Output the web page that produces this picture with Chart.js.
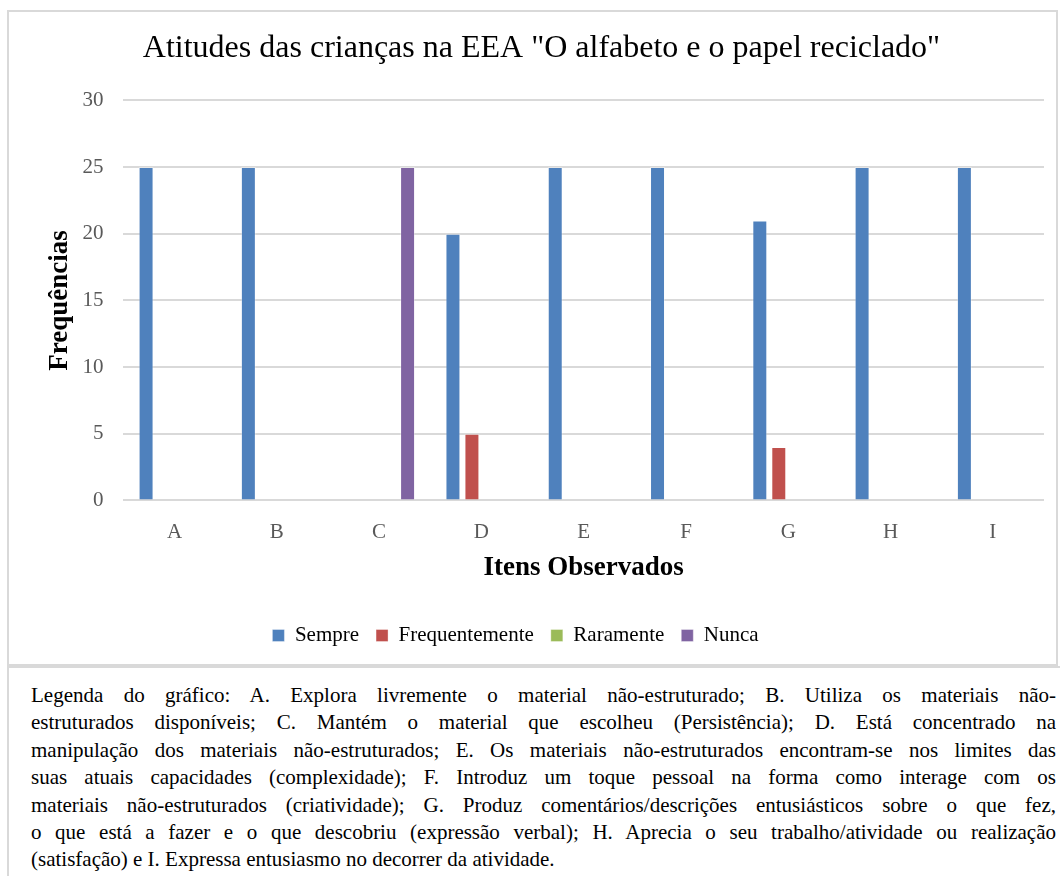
<!DOCTYPE html>
<html>
<head>
<meta charset="utf-8">
<script src="https://cdn.jsdelivr.net/npm/chart.js@4"></script>
<style>
  body { margin: 0; background: #fff; font-family: "Liberation Serif", "Tinos", "Times New Roman", "DejaVu Serif", serif; }
  #box { position: absolute; left: 7px; top: 10px; width: 1047px; height: 652px; border: 2px solid #d9d9d9; }
  #cap { position: absolute; left: 7px; top: 666px; width: 1025px; height: 220px; border-left: 2px solid #d9d9d9; border-top: 2px solid #d9d9d9; padding: 14px 4px 0 22px; font-size: 21px; line-height: 27.4px; color: #000; }
  #cap div { text-align: justify; text-align-last: justify; }
  #cap div.last { text-align-last: left; }
</style>
</head>
<body>
<div id="box"><canvas id="c"></canvas></div>
<div id="cap">
  <div>Legenda do gráfico: A. Explora livremente o material não-estruturado; B. Utiliza os materiais não-</div>
  <div>estruturados disponíveis; C. Mantém o material que escolheu (Persistência); D. Está concentrado na</div>
  <div>manipulação dos materiais não-estruturados; E. Os materiais não-estruturados encontram-se nos limites das</div>
  <div>suas atuais capacidades (complexidade); F. Introduz um toque pessoal na forma como interage com os</div>
  <div>materiais não-estruturados (criatividade); G. Produz comentários/descrições entusiásticos sobre o que fez,</div>
  <div>o que está a fazer e o que descobriu (expressão verbal); H. Aprecia o seu trabalho/atividade ou realização</div>
  <div class="last">(satisfação) e I. Expressa entusiasmo no decorrer da atividade.</div>
</div>
<script>
var categories = ["A", "B", "C", "D", "E", "F", "G", "H", "I"];
var sempre        = [25, 25, 0, 20, 25, 25, 21, 25, 25];
var frequentemente = [0, 0, 0, 5, 0, 0, 4, 0, 0];
var raramente     = [0, 0, 0, 0, 0, 0, 0, 0, 0];
var nunca         = [0, 0, 25, 0, 0, 0, 0, 0, 0];
var yTicks = [0, 5, 10, 15, 20, 25, 30];

var serif = "'Liberation Serif', Tinos, 'Times New Roman', 'DejaVu Serif', serif";

function ds(label, data, color){
    return {
        label: label,
        data: data,
        backgroundColor: color,
        borderColor: "rgba(255,255,255,0.35)",
        borderWidth: 1,
        categoryPercentage: 0.742,
        barPercentage: 0.79
    };
}

// legend in the original sits a bit left of the canvas centre
var legendShift = {
    id: "legendShift",
    afterLayout: function(chart){
        chart.legend.left -= 26;
        chart.legend.right -= 26;
    }
};

var myChart = new Chart(document.getElementById("c"), {
    type: "bar",
    data: {
        labels: categories,
        datasets: [
            ds("Sempre", sempre, "#4F81BD"),
            ds("Frequentemente", frequentemente, "#C0504D"),
            ds("Raramente", raramente, "#9BBB59"),
            ds("Nunca", nunca, "#8064A2")
        ]
    },
    plugins: [legendShift],
    options: {
        responsive: true,
        maintainAspectRatio: false,
        animation: false,
        layout: { padding: { left: 30, right: 12, top: 0, bottom: 8 } },
        plugins: {
            title: {
                display: true,
                text: 'Atitudes das crianças na EEA "O alfabeto e o papel reciclado"',
                color: "#000",
                font: { family: serif, size: 32, weight: "normal" },
                padding: { top: 17, bottom: 33 }
            },
            legend: {
                position: "bottom",
                labels: {
                    color: "#000",
                    boxWidth: 12,
                    boxHeight: 12,
                    padding: 17,
                    font: { family: serif, size: 21 }
                }
            },
            tooltip: { enabled: false }
        },
        scales: {
            x: {
                grid: { display: false, drawTicks: false },
                border: { display: false },
                ticks: { color: "#595959", padding: 19, font: { family: serif, size: 21 } },
                title: { display: true, text: "Itens Observados", color: "#000", padding: { top: -12, bottom: 24 }, font: { family: serif, size: 27, weight: "bold" } }
            },
            y: {
                min: 0,
                max: 30,
                afterBuildTicks: function(axis){ axis.ticks = yTicks.map(function(v){ return { value: v }; }); },
                grid: { color: "#d9d9d9", lineWidth: 2, drawTicks: false },
                border: { display: false },
                ticks: { color: "#595959", padding: 20, font: { family: serif, size: 21 } },
                title: { display: true, text: "Frequências", color: "#000", padding: { top: 5, bottom: -14 }, font: { family: serif, size: 27, weight: "bold" } }
            }
        }
    }
});
</script>
</body>
</html>
